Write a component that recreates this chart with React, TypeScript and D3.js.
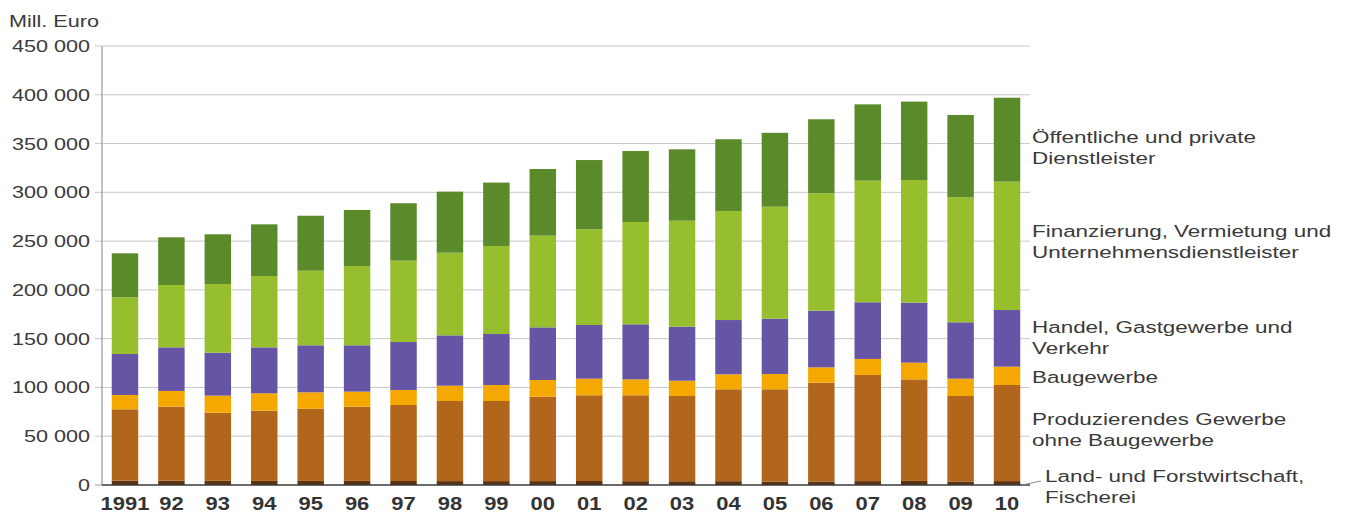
import { useEffect, useRef } from "react";
import * as d3 from "d3";

const years = ["1991", "92", "93", "94", "95", "96", "97", "98", "99", "00", "01", "02", "03", "04", "05", "06", "07", "08", "09", "10"];

// values in Mill. Euro (thousands here, scaled below)
const landwirtschaft = [4.5, 4.5, 4.3, 4.2, 4.2, 4.2, 4.1, 4.0, 4.0, 4.0, 4.1, 3.9, 3.8, 3.9, 3.5, 3.6, 4.0, 4.2, 3.6, 4.0];
const produzierend = [73.1, 75.8, 69.8, 72.0, 74.0, 76.1, 77.9, 82.1, 82.1, 86.5, 87.9, 88.1, 87.4, 94.2, 94.6, 101.3, 108.8, 104.1, 87.6, 98.5];
const baugewerbe = [14.7, 16.1, 17.5, 17.8, 16.8, 15.4, 15.4, 15.7, 16.4, 17.1, 17.0, 16.3, 15.7, 15.4, 15.7, 15.7, 16.4, 17.1, 17.8, 18.8];
const handel = [42.0, 44.7, 44.0, 47.1, 48.2, 47.5, 49.2, 51.6, 52.3, 54.0, 55.0, 56.4, 55.4, 55.6, 56.7, 58.1, 58.1, 61.5, 57.8, 58.1];
const finanzierung = [58.1, 63.9, 70.4, 73.1, 76.5, 81.3, 83.4, 84.7, 90.2, 94.0, 98.1, 104.9, 108.6, 111.8, 114.8, 120.3, 124.7, 125.7, 128.1, 131.6];
const dienstleister = [45.1, 48.9, 51.0, 53.0, 56.3, 57.4, 58.8, 62.6, 65.0, 68.3, 71.0, 72.8, 73.2, 73.5, 75.7, 75.9, 78.2, 80.4, 84.4, 86.0];

const seriesKeys = ["land", "prod", "bau", "handel", "fin", "oeff"];
const seriesColors = ["#5c3312", "#b1661b", "#f5a800", "#6655a4", "#97bf2d", "#5b8a2b"];
const yTicks = [0, 50000, 100000, 150000, 200000, 250000, 300000, 350000, 400000, 450000];

const legendLabels = [
  { lines: ["Öffentliche und private", "Dienstleister"], y: 143 },
  { lines: ["Finanzierung, Vermietung und", "Unternehmensdienstleister"], y: 237 },
  { lines: ["Handel, Gastgewerbe und", "Verkehr"], y: 333 },
  { lines: ["Baugewerbe"], y: 383 },
  { lines: ["Produzierendes Gewerbe", "ohne Baugewerbe"], y: 425 },
  { lines: ["Land- und Forstwirtschaft,", "Fischerei"], y: 482, indent: 13 },
];

export default function App() {
  const ref = useRef<HTMLDivElement>(null);

  useEffect(() => {
    if (!ref.current) return;
    const container = ref.current;
    container.innerHTML = "";

    const width = 1346;
    const height = 514;
    const stretch = 1.27;
    const font = "'Liberation Sans', Arial, Helvetica, sans-serif";
    const textColor = "#3a3a3a";

    const svg = d3
      .select(container)
      .append("svg")
      .attr("width", width)
      .attr("height", height)
      .style("display", "block")
      .style("background", "#fff");

    const rows = years.map((yr, i) => ({
      year: yr,
      land: landwirtschaft[i] * 1000,
      prod: produzierend[i] * 1000,
      bau: baugewerbe[i] * 1000,
      handel: handel[i] * 1000,
      fin: finanzierung[i] * 1000,
      oeff: dienstleister[i] * 1000,
    }));

    const x = d3.scaleBand<string>().domain(years).range([102, 1030]).paddingInner(0.43).paddingOuter(0.21);
    const y = d3.scaleLinear().domain([0, 450000]).range([485, 46]);

    // gridlines
    svg
      .append("g")
      .selectAll("line")
      .data(yTicks.slice(1))
      .join("line")
      .attr("x1", 95)
      .attr("x2", 1030)
      .attr("y1", (d) => y(d))
      .attr("y2", (d) => y(d))
      .attr("stroke", "#c8c8c8")
      .attr("stroke-width", 1);

    // y tick labels
    const fmt = (v: number) => d3.format(",")(v).replace(/,/g, " ");
    svg
      .append("g")
      .selectAll("text")
      .data(yTicks)
      .join("text")
      .attr("transform", (d) => `translate(90,${y(d) + 6}) scale(${stretch},1)`)
      .attr("text-anchor", "end")
      .style("font-family", font)
      .style("font-size", "17px")
      .style("fill", textColor)
      .text(fmt);

    svg
      .append("text")
      .attr("transform", `translate(9,27) scale(${stretch},1)`)
      .style("font-family", font)
      .style("font-size", "17px")
      .style("fill", textColor)
      .text("Mill. Euro");

    // stacked bars
    const stack = d3.stack<any>().keys(seriesKeys);
    const stacked = stack(rows);

    svg
      .append("g")
      .selectAll("g")
      .data(stacked)
      .join("g")
      .attr("fill", (_, i) => seriesColors[i])
      .selectAll("rect")
      .data((d) => d)
      .join("rect")
      .attr("x", (d) => x(d.data.year)!)
      .attr("width", x.bandwidth())
      .attr("y", (d) => y(d[1]))
      .attr("height", (d) => y(d[0]) - y(d[1]));

    // axes
    svg.append("line").attr("x1", 102).attr("x2", 102).attr("y1", 46).attr("y2", 485).attr("stroke", "#9a9a9a").attr("stroke-width", 1.2);
    svg.append("line").attr("x1", 95).attr("x2", 102).attr("y1", y(0)).attr("y2", y(0)).attr("stroke", "#9a9a9a");
    svg.append("line").attr("x1", 102).attr("x2", 1030).attr("y1", y(0)).attr("y2", y(0)).attr("stroke", "#3a3a3a").attr("stroke-width", 1.6);

    // year labels
    svg
      .append("g")
      .selectAll("text")
      .data(years)
      .join("text")
      .attr("transform", (d) => `translate(${x(d)! + x.bandwidth() / 2},510) scale(1.22,1)`)
      .attr("text-anchor", "middle")
      .style("font-family", font)
      .style("font-size", "18px")
      .style("font-weight", "bold")
      .style("fill", "#333")
      .text((d) => d);

    // legend labels
    const leg = svg.append("g");
    legendLabels.forEach((l) => {
      l.lines.forEach((line, j) => {
        leg
          .append("text")
          .attr("transform", `translate(${1032 + (l.indent ?? 0)},${l.y + j * 20.5}) scale(1.32,1)`)
          .style("font-family", font)
          .style("font-size", "17px")
          .style("fill", textColor)
          .text(line);
      });
    });

    // leader line for Land- und Forstwirtschaft
    leg.append("line").attr("x1", 1022).attr("x2", 1041).attr("y1", y(0)).attr("y2", y(0) - 4).attr("stroke", "#888").attr("stroke-width", 1);
  }, []);

  return <div ref={ref} style={{ position: "absolute", left: 0, top: 0, width: 1346, height: 514 }} />;
}
